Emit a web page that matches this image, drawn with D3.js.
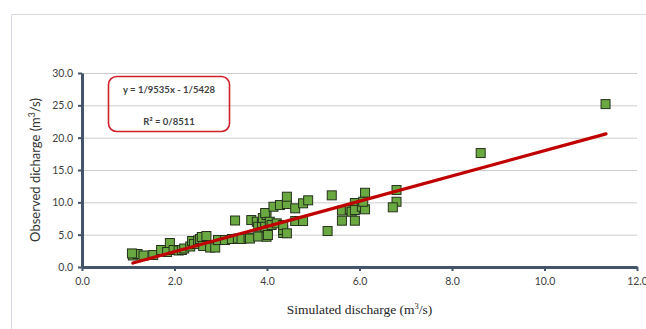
<!DOCTYPE html>
<html>
<head>
<meta charset="utf-8">
<script src="https://cdn.jsdelivr.net/npm/d3@7"></script>
<style>
  body { margin: 0; background: #fff; }
  svg { display: block; }
</style>
</head>
<body>
<svg id="chart"></svg>
<script>
const simulated = [
  1.10, 1.20, 1.33, 1.08, 1.54, 1.71, 1.90, 1.84, 1.98, 2.09,
  2.16, 2.21, 2.34, 2.38, 2.42, 2.51, 2.55, 2.59, 2.69, 2.62,
  2.77, 2.88, 2.94, 3.09, 3.24, 3.31, 3.37, 3.45, 3.60, 3.63,
  3.66, 3.81, 3.78, 3.81, 3.89, 3.91, 3.96, 3.99, 3.96, 3.99,
  4.02, 4.06, 4.10, 4.14, 4.21, 4.28, 4.35, 4.35, 4.35, 4.43,
  4.43, 4.43, 4.61, 4.61, 4.78, 4.78, 4.89, 5.31, 5.40, 5.62,
  5.62, 5.79, 5.83, 5.90, 5.90, 5.90, 6.05, 6.12, 6.12, 6.08,
  6.80, 6.80, 6.72, 8.62, 11.32
];
const observed = [
  1.78, 2.01, 1.78, 2.10, 1.85, 2.63, 3.71, 2.32, 2.63, 2.55,
  2.63, 2.86, 3.17, 4.02, 3.55, 4.10, 4.33, 4.64, 4.79, 3.25,
  3.01, 3.01, 4.17, 4.17, 4.33, 7.19, 4.40, 4.33, 4.56, 4.40,
  7.26, 4.71, 7.00, 6.23, 6.75, 7.57, 6.23, 8.04, 8.35, 4.68,
  4.95, 7.00, 6.49, 9.32, 6.75, 9.58, 5.26, 5.72, 6.49, 9.74,
  10.87, 5.21, 9.07, 7.11, 9.85, 7.11, 10.31, 5.56, 11.08, 8.73,
  7.16, 8.92, 8.55, 9.89, 8.81, 7.16, 9.32, 11.48, 8.92, 10.09,
  11.90, 10.09, 9.23, 17.62, 25.19
];
const xTicks = [0, 2, 4, 6, 8, 10, 12];
const yTicks = [0, 5, 10, 15, 20, 25, 30];
const trendSlope = 1.9535;
const trendIntercept = -1.5428;
const trendRange = [1.1, 11.33];
const equationLabels = ["y = 1/9535x - 1/5428", "R² = 0/8511"];

const width = 646, height = 329;
const margin = { top: 73, right: 9, bottom: 62, left: 82 };

const svg = d3.select("#chart")
    .attr("width", width)
    .attr("height", height);

// cornice esterna del grafico
svg.append("path")
    .attr("d", `M11.5,${height} V14.5 H${width}`)
    .attr("fill", "none")
    .attr("stroke", "#d5dae4")
    .attr("stroke-width", 1);

const x = d3.scaleLinear().domain([0, 12]).range([margin.left, width - margin.right]);
const y = d3.scaleLinear().domain([0, 30]).range([height - margin.bottom, margin.top]);

// griglia orizzontale
svg.append("g")
    .selectAll("line")
    .data(yTicks.slice(1))
    .join("line")
    .attr("x1", x(0))
    .attr("x2", x(12))
    .attr("y1", d => y(d) + 0.5)
    .attr("y2", d => y(d) + 0.5)
    .attr("stroke", "#cccccc")
    .attr("stroke-width", 1);

// assi
const xAxis = svg.append("g")
    .attr("transform", `translate(0,${y(0)})`)
    .call(d3.axisBottom(x).tickValues(xTicks).tickFormat(d3.format(".1f")).tickSize(4).tickSizeOuter(0).tickPadding(7));

const yAxis = svg.append("g")
    .attr("transform", `translate(${x(0)},0)`)
    .call(d3.axisLeft(y).tickValues(yTicks).tickFormat(d3.format(".1f")).tickSize(4).tickSizeOuter(0).tickPadding(5));

[xAxis, yAxis].forEach(a => {
    a.select(".domain").attr("stroke", "#44546a").attr("stroke-width", 3);
    a.selectAll(".tick line").attr("stroke", "#44546a").attr("stroke-width", 2);
    a.selectAll(".tick text")
        .attr("fill", "#404040")
        .style("font-family", "Lato, 'Open Sans', sans-serif")
        .style("font-size", "10.5px");
});

// punti
const points = simulated.map((s, i) => ({ s: s, o: observed[i] }));
const size = 9;
svg.append("g")
    .selectAll("rect")
    .data(points)
    .join("rect")
    .attr("x", d => x(d.s) - size / 2)
    .attr("y", d => y(d.o) - size / 2)
    .attr("width", size)
    .attr("height", size)
    .attr("fill", "#6aa842")
    .attr("stroke", "#25311c")
    .attr("stroke-width", 1);

// linea di tendenza
svg.append("line")
    .attr("x1", x(trendRange[0]))
    .attr("y1", y(trendSlope * trendRange[0] + trendIntercept))
    .attr("x2", x(trendRange[1]))
    .attr("y2", y(trendSlope * trendRange[1] + trendIntercept))
    .attr("stroke", "#c00000")
    .attr("stroke-width", 3.2)
    .attr("stroke-linecap", "round");

// riquadro con equazione
svg.append("rect")
    .attr("x", 108.5)
    .attr("y", 76.5)
    .attr("width", 121)
    .attr("height", 55)
    .attr("rx", 8)
    .attr("fill", "none")
    .attr("stroke", "#d0202a")
    .attr("stroke-width", 1.6);

svg.append("g")
    .selectAll("text")
    .data(equationLabels)
    .join("text")
    .attr("x", 169)
    .attr("y", (d, i) => 93 + i * 31.5)
    .attr("text-anchor", "middle")
    .attr("fill", "#404040")
    .style("font-family", "Lato, 'Open Sans', sans-serif")
    .style("font-size", "9.5px")
    .style("font-weight", "bold")
    .text(d => d);

// titoli assi
const yTitle = svg.append("text")
    .attr("transform", `translate(40,${(y(0) + y(30)) / 2}) rotate(-90)`)
    .attr("text-anchor", "middle")
    .attr("fill", "#333333")
    .style("font-family", "Lato, 'Open Sans', sans-serif")
    .style("font-size", "13px");
yTitle.append("tspan").text("Observed dicharge (m");
yTitle.append("tspan").attr("dy", -5).style("font-size", "8.5px").text("3");
yTitle.append("tspan").attr("dy", 5).text("/s)");

const xTitle = svg.append("text")
    .attr("x", (x(0) + x(12)) / 2)
    .attr("y", 314)
    .attr("text-anchor", "middle")
    .attr("fill", "#262626")
    .style("font-family", "'Liberation Serif', 'Times New Roman', serif")
    .style("font-size", "13.5px");
xTitle.append("tspan").text("Simulated discharge (m");
xTitle.append("tspan").attr("dy", -5).style("font-size", "8.5px").text("3");
xTitle.append("tspan").attr("dy", 5).text("/s)");
</script>
</body>
</html>
